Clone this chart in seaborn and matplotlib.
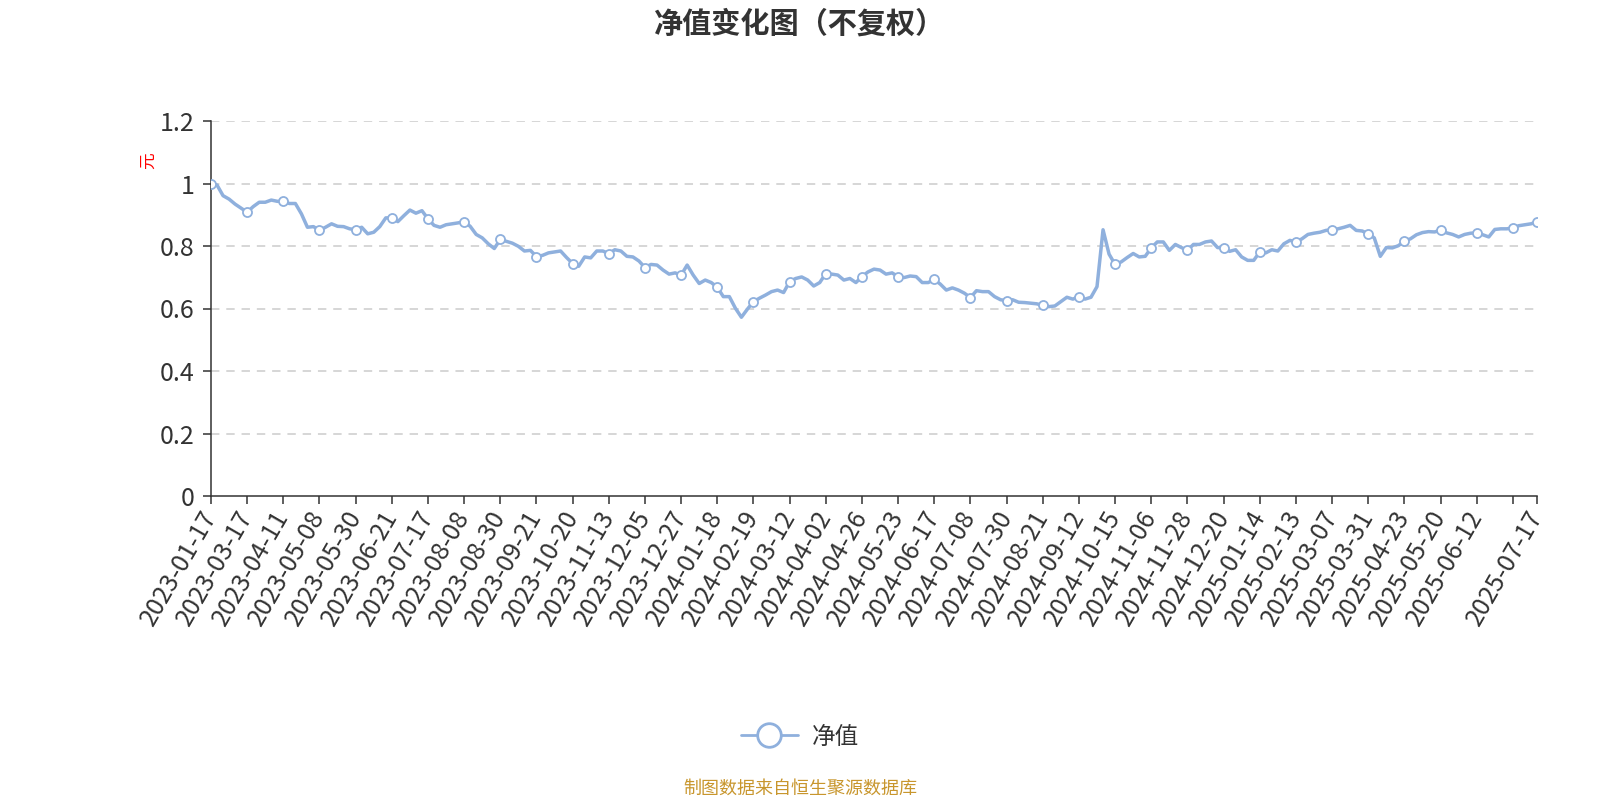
import pandas as pd
import matplotlib.pyplot as plt
import seaborn as sns
from matplotlib.lines import Line2D

# tick labels every 6 points; the tick after 2025-06-12 has no label, last point is 2025-07-17
tick_dates = ["2023-01-17", "2023-03-17", "2023-04-11", "2023-05-08", "2023-05-30", "2023-06-21",
              "2023-07-17", "2023-08-08", "2023-08-30", "2023-09-21", "2023-10-20", "2023-11-13",
              "2023-12-05", "2023-12-27", "2024-01-18", "2024-02-19", "2024-03-12", "2024-04-02",
              "2024-04-26", "2024-05-23", "2024-06-17", "2024-07-08", "2024-07-30", "2024-08-21",
              "2024-09-12", "2024-10-15", "2024-11-06", "2024-11-28", "2024-12-20", "2025-01-14",
              "2025-02-13", "2025-03-07", "2025-03-31", "2025-04-23", "2025-05-20", "2025-06-12"]
end_date = "2025-07-17"

nav = [1.000,
       0.995, 0.961, 0.950, 0.934, 0.921, 0.908,
       0.926, 0.940, 0.940, 0.947, 0.943, 0.943,
       0.936, 0.936, 0.903, 0.860, 0.862, 0.850,
       0.860, 0.871, 0.863, 0.862, 0.855, 0.852,
       0.860, 0.839, 0.844, 0.862, 0.890, 0.890,
       0.878, 0.897, 0.915, 0.905, 0.913, 0.887,
       0.866, 0.860, 0.868, 0.871, 0.874, 0.878,
       0.863, 0.837, 0.826, 0.807, 0.792, 0.821,
       0.815, 0.809, 0.799, 0.784, 0.786, 0.766,
       0.770, 0.778, 0.781, 0.784, 0.763, 0.744,
       0.735, 0.765, 0.762, 0.784, 0.784, 0.776,
       0.788, 0.784, 0.767, 0.765, 0.752, 0.731,
       0.741, 0.739, 0.723, 0.710, 0.714, 0.707,
       0.739, 0.707, 0.680, 0.691, 0.683, 0.668,
       0.638, 0.638, 0.601, 0.572, 0.598, 0.622,
       0.633, 0.643, 0.654, 0.659, 0.651, 0.686,
       0.696, 0.701, 0.691, 0.672, 0.683, 0.712,
       0.710, 0.707, 0.691, 0.696, 0.683, 0.702,
       0.717, 0.726, 0.723, 0.710, 0.714, 0.702,
       0.699, 0.704, 0.702, 0.683, 0.683, 0.693,
       0.678, 0.659, 0.666, 0.659, 0.649, 0.635,
       0.657, 0.654, 0.654, 0.638, 0.628, 0.625,
       0.628, 0.620, 0.619, 0.617, 0.615, 0.610,
       0.606, 0.608, 0.622, 0.636, 0.630, 0.638,
       0.630, 0.636, 0.670, 0.852, 0.774, 0.741,
       0.749, 0.763, 0.776, 0.765, 0.767, 0.794,
       0.813, 0.813, 0.786, 0.805, 0.795, 0.786,
       0.805, 0.805, 0.813, 0.816, 0.795, 0.794,
       0.783, 0.788, 0.765, 0.754, 0.754, 0.781,
       0.778, 0.788, 0.784, 0.807, 0.818, 0.813,
       0.823, 0.837, 0.841, 0.844, 0.850, 0.852,
       0.855, 0.860, 0.866, 0.850, 0.848, 0.839,
       0.826, 0.767, 0.795, 0.794, 0.801, 0.816,
       0.823, 0.836, 0.843, 0.846, 0.845, 0.850,
       0.842, 0.837, 0.829, 0.837, 0.841, 0.842,
       0.836, 0.829, 0.853, 0.855, 0.855, 0.858,
       0.865, 0.868, 0.871, 0.877]

step = 6
blue = "#8fb0dd"

sns.set_theme(style="white")
plt.rcParams['font.family'] = ['Noto Sans CJK SC', 'DejaVu Sans']

df = pd.DataFrame({"idx": range(len(nav)), "nav": nav})
last = len(nav) - 1
tick_pos = list(range(0, len(nav), step)) + [last]
tick_lab = tick_dates + [""] * (len(tick_pos) - len(tick_dates) - 1) + [end_date]

fig = plt.figure(figsize=(16, 8), dpi=100)
ax = fig.add_axes([211 / 1600, 1 - 496 / 800, (1537 - 211) / 1600, (496 - 121) / 800])

for v in [0.2, 0.4, 0.6, 0.8, 1.0, 1.2]:
    ax.axhline(v, color="#cccccc", linewidth=1.1, dashes=(5.5, 4.5), zorder=0)

sns.lineplot(data=df, x="idx", y="nav", ax=ax, color=blue, linewidth=2.5,
             marker="o", markevery=tick_pos, markersize=6.5, markerfacecolor="white",
             markeredgecolor=blue, markeredgewidth=1.3, zorder=3)

ax.set_xlim(0, last)
ax.set_ylim(0, 1.2)
ax.set_yticks([0, 0.2, 0.4, 0.6, 0.8, 1.0, 1.2])
ax.set_yticklabels(["0", "0.2", "0.4", "0.6", "0.8", "1", "1.2"])
ax.set_xticks(tick_pos)
ax.set_xticklabels(tick_lab, rotation=60, ha="right", va="center", rotation_mode="anchor")
ax.set_xlabel("")
ax.set_ylabel("")
ax.tick_params(axis="both", colors="#333333", labelsize=18, length=6, width=1.1,
               direction="out", pad=6)
ax.tick_params(axis="both", left=True, bottom=True)
for s in ["top", "right"]:
    ax.spines[s].set_visible(False)
for s in ["left", "bottom"]:
    ax.spines[s].set_color("#333333")
    ax.spines[s].set_linewidth(1.1)

fig.text(0.5, 1 - 24 / 800, "净值变化图（不复权）", ha="center", va="center",
         fontsize=21, fontweight="bold", color="#333333")
fig.text(148 / 1600, 1 - 161 / 800, "元", rotation=90, ha="center", va="center",
         fontsize=12, color="red")

handle = Line2D([0], [0], color=blue, linewidth=2, marker="o", markersize=17,
                markerfacecolor="white", markeredgecolor=blue, markeredgewidth=2)
fig.legend([handle], ["净值"], loc="center", bbox_to_anchor=(0.5, 1 - 737 / 800),
           frameon=False, fontsize=17, handlelength=2.4, handletextpad=0.6,
           labelcolor="#333333")

fig.text(0.5, 1 - 789 / 800, "制图数据来自恒生聚源数据库", ha="center", va="center",
         fontsize=13, color="#c8962d")

fig.savefig("out.png", dpi=100)
